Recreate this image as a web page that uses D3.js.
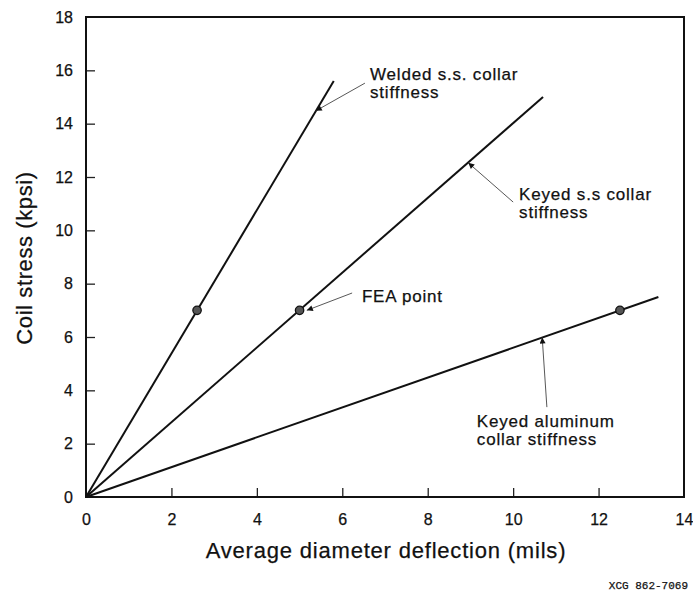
<!DOCTYPE html>
<html>
<head>
<meta charset="utf-8">
<script src="https://cdn.jsdelivr.net/npm/d3@7"></script>
<style>
  body { margin: 0; background: #fff; }
  text { font-family: "Liberation Sans", Arial, sans-serif; fill: #111; stroke: #111; stroke-width: 0.25px; }
</style>
</head>
<body>
<div id="chart"></div>
<script>
// stiffness lines: from origin to end point (mils, kpsi)
const seriesNames = ["Welded s.s. collar stiffness", "Keyed s.s collar stiffness", "Keyed aluminum collar stiffness"];
const lineEndX = [5.8, 10.7, 13.4];
const lineEndY = [15.6, 15.0, 7.5];
// FEA points on each line
const feaX = [2.6, 5.0, 12.5];
const feaY = [7, 7, 7];

const xTicks = [0, 2, 4, 6, 8, 10, 12, 14];
const yTicks = [0, 2, 4, 6, 8, 10, 12, 14, 16, 18];

// annotation text lines, anchor (data units) and arrow tail/head (data units)
const notes = [
  { lines: ["Welded s.s. collar", "stiffness"], tx: 6.65, ty: 15.64, from: [6.53, 15.52], to: [5.38, 14.48] },
  { lines: ["Keyed s.s collar", "stiffness"], tx: 10.14, ty: 11.14, from: [10.0, 11.06], to: [8.95, 12.53] },
  { lines: ["FEA point"], tx: 6.46, ty: 7.31, from: [6.23, 7.65], to: [5.17, 7.0] },
  { lines: ["Keyed aluminum", "collar stiffness"], tx: 9.15, ty: 2.62, from: [10.79, 3.37], to: [10.68, 5.98] }
];

const width = 693, height = 595;
const margin = { top: 17, right: 9, bottom: 98, left: 86 };
const innerW = width - margin.left - margin.right;
const innerH = height - margin.top - margin.bottom;

const svg = d3.select("#chart").append("svg")
  .attr("width", width).attr("height", height);

svg.append("defs").append("marker")
  .attr("id", "arrow")
  .attr("viewBox", "0 0 10 10")
  .attr("refX", 10).attr("refY", 5)
  .attr("markerWidth", 9).attr("markerHeight", 6)
  .attr("markerUnits", "userSpaceOnUse")
  .attr("orient", "auto")
  .append("path").attr("d", "M0,0L10,5L0,10z").attr("fill", "#111");

const g = svg.append("g").attr("transform", `translate(${margin.left},${margin.top})`);

const x = d3.scaleLinear().domain([0, 14]).range([0, innerW]);
const y = d3.scaleLinear().domain([0, 18]).range([innerH, 0]);

// axes: ticks point inward
const xAxis = g.append("g").attr("transform", `translate(0,${innerH})`)
  .call(d3.axisBottom(x).tickValues(xTicks).tickSize(-9).tickPadding(17).tickFormat(d3.format("d")));
const yAxis = g.append("g")
  .call(d3.axisLeft(y).tickValues(yTicks).tickSize(-9).tickPadding(13).tickFormat(d3.format("d")));

[xAxis, yAxis].forEach(a => {
  a.select(".domain").remove();
  a.selectAll(".tick line").attr("stroke", "#222").attr("stroke-width", 1.3);
  a.selectAll(".tick text").style("font-size", "16px").style("font-family", "'Liberation Sans', Arial, sans-serif").attr("fill", "#111");
});
xAxis.selectAll(".tick").filter(d => d === 0 || d === 14).select("line").remove();
yAxis.selectAll(".tick").filter(d => d === 0 || d === 18).select("line").remove();

// frame
g.append("rect")
  .attr("x", 0).attr("y", 0).attr("width", innerW).attr("height", innerH)
  .attr("fill", "none").attr("stroke", "#111").attr("stroke-width", 2);

// stiffness lines
const line = d3.line().x(d => x(d[0])).y(d => y(d[1]));
seriesNames.forEach((name, i) => {
  g.append("path")
    .datum([[0, 0], [lineEndX[i], lineEndY[i]]])
    .attr("fill", "none").attr("stroke", "#111").attr("stroke-width", 2)
    .attr("d", line);
});

// FEA points
g.selectAll("circle.fea")
  .data(feaX.map((v, i) => [v, feaY[i]]))
  .join("circle")
  .attr("class", "fea")
  .attr("cx", d => x(d[0])).attr("cy", d => y(d[1]))
  .attr("r", 4.2)
  .attr("fill", "#555").attr("stroke", "#111").attr("stroke-width", 1.3);

// annotations
notes.forEach(n => {
  g.append("line")
    .attr("x1", x(n.from[0])).attr("y1", y(n.from[1]))
    .attr("x2", x(n.to[0])).attr("y2", y(n.to[1]))
    .attr("stroke", "#444").attr("stroke-width", 0.9)
    .attr("marker-end", "url(#arrow)");
  const t = g.append("text")
    .attr("x", x(n.tx)).attr("y", y(n.ty))
    .style("font-size", "17px").style("letter-spacing", "0.8px");
  n.lines.forEach((s, k) => {
    t.append("tspan").attr("x", x(n.tx)).attr("dy", k === 0 ? 0 : 18).text(s);
  });
});

// axis titles
svg.append("text")
  .attr("x", 386).attr("y", 558)
  .attr("text-anchor", "middle").style("font-size", "22px").style("letter-spacing", "0.8px")
  .text("Average diameter deflection (mils)");
svg.append("text")
  .attr("transform", "rotate(-90)")
  .attr("x", -258).attr("y", 32)
  .attr("text-anchor", "middle").style("font-size", "22px").style("letter-spacing", "0.6px")
  .text("Coil stress (kpsi)");

svg.append("text")
  .attr("x", 688).attr("y", 589)
  .attr("text-anchor", "end")
  .style("font-family", "'Liberation Mono', 'DejaVu Sans Mono', monospace")
  .style("font-size", "11px")
  .text("XCG 862-7069");
</script>
</body>
</html>
